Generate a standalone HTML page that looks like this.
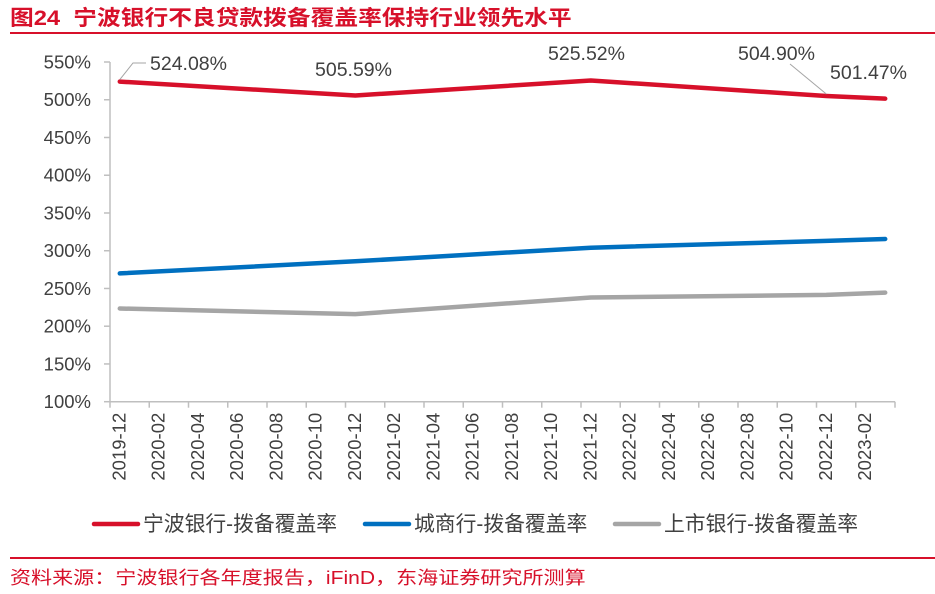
<!DOCTYPE html>
<html><head><meta charset="utf-8">
<style>
html,body{margin:0;padding:0;background:#fff;}
body{width:935px;height:594px;position:relative;overflow:hidden;font-family:"Liberation Sans","Noto Sans CJK SC",sans-serif;}
</style></head>
<body>
<div style="position:absolute;left:10px;top:2px;font-size:21px;font-weight:bold;color:#d7102a;white-space:nowrap;transform-origin:0 0;transform:scaleX(1.13);">图24&nbsp; 宁波银行不良贷款拨备覆盖率保持行业领先水平</div>
<div style="position:absolute;left:10px;top:32px;width:925px;height:2px;background:#d7102a;"></div>
<svg id="chart" width="935" height="594" style="position:absolute;left:0;top:0" font-family="Liberation Sans, Noto Sans CJK SC, sans-serif"></svg>
<div style="position:absolute;left:10px;top:557px;width:925px;height:2px;background:#d7102a;"></div>
<div style="position:absolute;left:10px;top:564px;font-size:18px;color:#d7102a;white-space:nowrap;transform-origin:0 0;transform:scaleX(1.17);">资料来源：宁波银行各年度报告，iFinD，东海证券研究所测算</div>
<script>
const tickLabels = ["2019-12","2020-02","2020-04","2020-06","2020-08","2020-10","2020-12","2021-02","2021-04","2021-06","2021-08","2021-10","2021-12","2022-02","2022-04","2022-06","2022-08","2022-10","2022-12","2023-02"];
const pointMonths = [0, 12, 24, 36, 39];
const ningboValues = [524.08, 505.59, 525.52, 504.90, 501.47];
const cityValues = [270, 286, 304, 313, 315.5];
const listedValues = [223.5, 216, 238, 241.5, 244.5];
const yTicks = [100,150,200,250,300,350,400,450,500,550];
const ningboLabels = ["524.08%","505.59%","525.52%","504.90%","501.47%"];

const svg = document.getElementById('chart');
const NS = 'http://www.w3.org/2000/svg';
const X0 = 110, X1 = 895, NM = 40;
const Y0 = 401.7, Y1 = 62;
const step = (X1 - X0) / NM;
function xMonth(m){ return X0 + (m + 0.5) * step; }
function xTick(m){ return X0 + m * step; }
function y(v){ return Y0 - (v - 100) / 450 * (Y0 - Y1); }
function mk(tag, attrs){ const e = document.createElementNS(NS, tag); for (const k in attrs) e.setAttribute(k, attrs[k]); svg.appendChild(e); return e; }

let ax = mk('line',{x1:X0,y1:Y1,x2:X0,y2:Y0,stroke:'#bfbfbf','stroke-width':1.5});


let bx = mk('line',{x1:X0,y1:Y0,x2:X1,y2:Y0,stroke:'#bfbfbf','stroke-width':1.5});



yTicks.forEach(v => {
  const t = mk('line',{x1:X0-6,y1:y(v),x2:X0,y2:y(v),stroke:'#bfbfbf','stroke-width':1.5});
  
  
  const l = mk('text',{x:X0-19,y:y(v)+6.5,'text-anchor':'end','font-size':18.5,fill:'#404040'});
  l.textContent = v + '%';
  
  
});

for (let k = 0; k <= NM/2; k++){
  const t = mk('line',{x1:xTick(2*k),y1:Y0,x2:xTick(2*k),y2:Y0+6,stroke:'#bfbfbf','stroke-width':1.5});
  
  
}
tickLabels.forEach((s,i) => {
  const cx = xMonth(2*i) - 1;
  const l = mk('text',{x:cx,y:Y0+11,'text-anchor':'end','font-size':18.5,fill:'#404040',dy:6.5});
  l.setAttribute('transform',`rotate(-90 ${cx} ${Y0+11})`);
  l.textContent = s;
  
  
});

function series(vals, color, name){
  const pts = vals.map((v,i) => xMonth(pointMonths[i]).toFixed(1) + ',' + y(v).toFixed(1)).join(' ');
  const p = mk('polyline',{points:pts,fill:'none',stroke:color,'stroke-width':4.5,'stroke-linejoin':'round','stroke-linecap':'round'});
  
  
}
series(listedValues,'#a5a5a5','listed-banks-line');
series(cityValues,'#0070c0','city-banks-line');
series(ningboValues,'#d7102a','ningbo-bank-line');

const labelPos = [[150,70],[315,76],[548,60],[738,60],[830,79]];
ningboLabels.forEach((s,i) => {
  const t = mk('text',{x:labelPos[i][0],y:labelPos[i][1],'font-size':19.5,fill:'#404040'});
  t.textContent = s;
  
  
});
let l1 = mk('polyline',{points:`${xMonth(0)},${y(ningboValues[0])-2} 133,63 146,63`,fill:'none',stroke:'#a5a5a5','stroke-width':1});


let l2 = mk('line',{x1:xMonth(36),y1:y(ningboValues[3])-2,x2:790,y2:64,stroke:'#a5a5a5','stroke-width':1});



const legend = [['宁波银行-拨备覆盖率','#d7102a',92,143],['城商行-拨备覆盖率','#0070c0',363,414],['上市银行-拨备覆盖率','#a5a5a5',613,664]];
legend.forEach(([s,c,lx,tx]) => {
  const ln = mk('line',{x1:lx+2,y1:524,x2:lx+46,y2:524,stroke:c,'stroke-width':4.5,'stroke-linecap':'round'});
  
  
  const t = mk('text',{x:tx,y:531,'font-size':20.8,fill:'#404040'});
  t.textContent = s;
  
  
});
</script>
</body></html>
